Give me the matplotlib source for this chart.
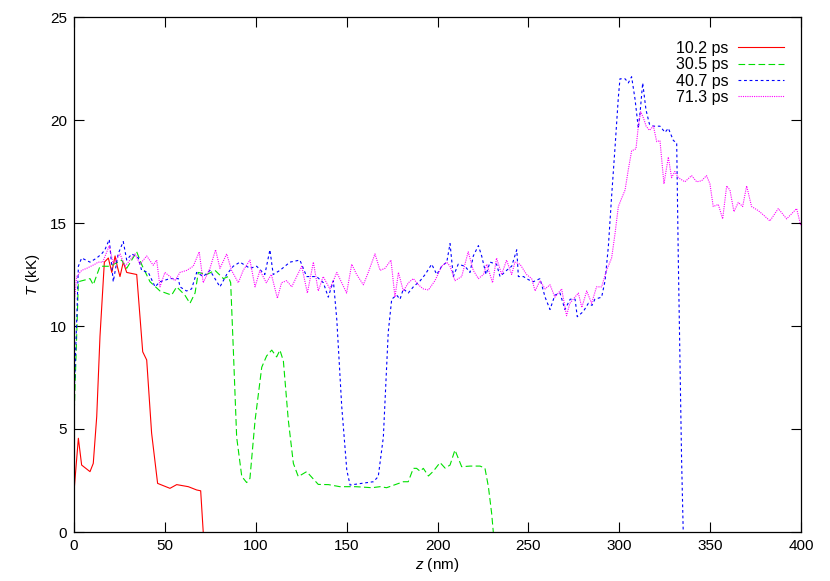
import numpy as np
import matplotlib.pyplot as plt

plt.rcParams['font.family'] = ['Liberation Sans', 'DejaVu Sans']
plt.rcParams['mathtext.fontset'] = 'custom'
plt.rcParams['mathtext.rm'] = 'Liberation Sans'
plt.rcParams['mathtext.it'] = 'Liberation Sans:italic'

# temperature profiles T(z) at four times, (z [nm], T [kK])
t_10 = [(0, 1.96), (2.4, 4.55), (4.2, 3.25), (8.8, 2.93), (10.6, 3.33), (12.5, 5.6),
        (14.3, 9.5), (16.7, 13.1), (18.9, 13.3), (20.8, 12.6), (22.6, 13.4), (23.8, 12.9),
        (25.3, 12.4), (27.1, 13.1), (29.0, 12.6), (34.5, 12.5), (37.8, 8.75), (40.0, 8.35),
        (42.7, 4.8), (46.0, 2.36), (52.8, 2.12), (56.5, 2.3), (62.9, 2.2), (67.5, 2.04),
        (69.7, 2.0), (71.1, 0.0)]

t_30 = [(0, 5.4), (2.4, 12.15), (8.8, 12.3), (10.6, 12.0), (14.3, 12.9), (19.8, 12.9),
        (26.2, 13.2), (29.0, 12.8), (34.5, 13.6), (37.4, 12.95), (41.8, 12.15), (47.3, 11.7),
        (53.7, 11.5), (56.5, 11.9), (61.0, 11.5), (63.8, 11.1), (66.6, 11.6), (68.4, 12.6),
        (73.0, 12.5), (77.6, 12.7), (82.2, 12.3), (84.9, 12.4), (86.2, 12.1), (87.6, 9.0),
        (89.5, 4.6), (92.3, 2.7), (95.0, 2.4), (96.8, 2.6), (99.6, 5.4), (103.3, 8.0),
        (106.0, 8.55), (108.8, 8.83), (111.5, 8.5), (113.3, 8.83), (115.2, 8.3), (117.9, 5.44),
        (120.7, 3.33), (123.4, 2.69), (128.0, 2.93), (134.4, 2.31), (140.0, 2.3), (146.3, 2.2),
        (155.0, 2.2), (164.0, 2.15), (168.4, 2.2), (172.0, 2.15), (181.2, 2.44), (183.9, 2.44),
        (186.7, 3.09), (188.5, 3.09), (190.4, 2.95), (192.2, 3.09), (195.0, 2.72), (197.7, 2.95),
        (201.4, 3.37), (204.2, 3.1), (206.9, 3.25), (209.6, 3.98), (213.3, 3.17), (218.0, 3.2),
        (223.4, 3.2), (226.1, 3.1), (228.0, 2.2), (229.8, 0.9), (230.7, 0.0)]

t_40 = [(0, 6.4), (1.5, 10.3), (2.4, 12.9), (4.2, 13.3), (8.8, 13.1), (12.5, 13.3),
        (15.2, 13.5), (17.0, 13.7), (19.4, 14.2), (21.6, 12.15), (24.3, 13.5), (27.1, 14.1),
        (29.0, 13.2), (31.8, 13.5), (35.4, 13.3), (37.2, 12.7), (40.9, 12.6), (44.6, 11.9),
        (47.3, 12.15), (52.8, 12.3), (57.4, 12.3), (58.3, 11.9), (61.9, 11.7), (64.7, 11.8),
        (67.5, 12.6), (71.1, 12.4), (74.8, 12.7), (80.3, 11.9), (84.0, 12.5), (87.6, 12.9),
        (91.3, 13.1), (96.8, 12.8), (100.5, 12.9), (105.0, 12.5), (107.8, 13.7), (109.6, 12.5),
        (113.3, 12.7), (118.8, 13.1), (124.3, 13.2), (128.0, 12.4), (133.5, 12.4), (137.2, 12.1),
        (139.9, 11.4), (142.7, 12.2), (144.6, 10.3), (147.3, 6.1), (150.1, 3.0), (151.9, 2.28),
        (157.4, 2.35), (164.7, 2.44), (167.4, 2.69), (170.2, 4.6), (172.9, 9.7), (174.8, 11.3),
        (177.5, 11.5), (179.4, 11.3), (181.2, 11.8), (183.9, 11.6), (186.7, 11.9), (190.5, 12.2),
        (193.2, 12.5), (196.8, 13.0), (199.6, 12.5), (202.3, 12.9), (205.1, 13.1), (206.9, 14.0),
        (208.7, 12.4), (211.4, 13.0), (215.1, 12.9), (217.9, 12.6), (219.7, 13.4), (222.5, 13.9),
        (224.3, 13.4), (226.7, 12.5), (228.9, 13.1), (232.5, 13.0), (234.4, 12.4), (238.0, 12.7),
        (240.8, 12.9), (243.6, 13.7), (244.5, 12.4), (247.3, 12.4), (250.0, 12.25), (252.7, 12.15),
        (256.4, 12.3), (259.2, 11.4), (261.9, 10.8), (264.6, 11.5), (267.4, 11.6), (270.1, 10.8),
        (273.0, 11.3), (275.7, 11.3), (276.9, 10.45), (280.2, 10.7), (283.0, 11.1), (285.0, 11.0),
        (286.6, 11.3), (290.3, 11.4), (292.2, 12.2), (294.0, 13.85), (295.8, 16.3), (297.7, 18.7),
        (299.5, 21.1), (300.4, 22.0), (303.2, 22.0), (305.0, 21.8), (306.8, 22.1), (308.7, 21.0),
        (310.5, 19.6), (311.6, 20.5), (312.9, 21.8), (314.7, 20.5), (316.6, 19.8), (318.8, 19.7),
        (322.4, 19.7), (325.2, 19.4), (327.0, 19.6), (329.8, 19.0), (331.6, 18.9), (332.5, 13.2),
        (334.3, 3.5), (335.2, 0.0)]

t_71 = [(0, 11.0), (1.5, 12.4), (4.2, 12.7), (7.0, 12.8), (11.5, 13.0), (13.3, 13.1),
        (15.8, 13.1), (19.4, 13.9), (21.6, 13.0), (25.3, 13.5), (28.1, 12.9), (30.8, 13.2),
        (33.6, 13.5), (36.3, 13.0), (40.0, 13.4), (43.6, 12.95), (45.5, 13.2), (47.3, 11.9),
        (50.0, 12.6), (52.8, 12.4), (55.6, 12.2), (58.3, 12.6), (62.0, 12.7), (65.6, 12.9),
        (68.9, 13.6), (71.1, 12.1), (74.8, 12.8), (77.9, 13.7), (80.3, 12.8), (84.0, 13.5),
        (86.7, 12.7), (90.4, 12.1), (93.1, 12.7), (96.8, 13.2), (99.6, 11.9), (102.3, 12.7),
        (105.8, 12.1), (108.6, 12.5), (111.9, 11.35), (114.2, 12.1), (117.0, 12.2), (119.8, 11.9),
        (122.5, 12.4), (125.3, 12.9), (128.4, 11.6), (131.7, 13.1), (134.4, 11.7), (137.1, 12.4),
        (140.8, 11.8), (144.6, 12.6), (147.3, 12.1), (150.0, 11.6), (152.8, 13.0), (155.5, 12.5),
        (159.2, 12.0), (161.9, 12.6), (165.6, 13.5), (168.4, 12.7), (171.1, 12.8), (174.4, 13.2),
        (176.6, 11.4), (178.5, 12.6), (181.2, 11.7), (184.0, 12.1), (186.7, 12.3), (189.5, 12.0),
        (192.2, 11.8), (195.0, 11.75), (198.6, 12.2), (202.3, 12.9), (205.1, 13.1), (206.9, 12.9),
        (209.6, 12.2), (213.3, 12.4), (216.9, 13.6), (219.7, 12.7), (222.5, 12.3), (225.3, 12.5),
        (227.1, 13.0), (230.3, 12.1), (232.5, 13.3), (235.3, 12.5), (238.0, 13.2), (240.8, 12.5),
        (242.6, 13.1), (245.4, 13.0), (249.0, 12.5), (251.8, 12.3), (253.7, 11.7), (256.4, 12.2),
        (259.2, 11.8), (261.9, 12.0), (264.6, 11.4), (268.3, 11.8), (271.0, 10.5), (272.8, 11.1),
        (276.5, 11.5), (277.5, 11.6), (279.4, 10.9), (282.1, 11.7), (284.8, 11.1), (287.5, 11.9),
        (290.3, 11.9), (293.0, 12.7), (295.8, 13.3), (297.7, 14.5), (299.5, 15.8), (301.3, 16.2),
        (303.2, 16.6), (305.0, 17.6), (306.8, 18.5), (309.2, 18.6), (310.5, 19.7), (311.8, 20.4),
        (313.3, 20.1), (314.8, 19.7), (316.6, 19.5), (318.8, 19.7), (320.6, 18.95), (322.4, 19.0),
        (324.6, 16.9), (327.0, 18.2), (328.8, 17.2), (330.6, 17.5), (332.5, 17.2), (336.1, 17.0),
        (339.8, 17.3), (342.6, 17.0), (345.3, 17.05), (348.0, 17.3), (349.9, 16.9), (351.7, 15.8),
        (354.5, 15.9), (356.9, 15.2), (359.1, 16.8), (360.9, 16.6), (363.1, 15.55), (365.5, 16.0),
        (367.9, 15.8), (370.1, 16.8), (372.8, 15.8), (376.5, 15.6), (379.2, 15.4), (382.9, 15.1),
        (387.5, 15.7), (392.1, 15.2), (397.6, 15.7), (399.8, 14.9)]

labels = ["10.2 ps", "30.5 ps", "40.7 ps", "71.3 ps"]
colors = ["#ff0000", "#00e000", "#0000ff", "#ff00ff"]
dashes = [None, (6, 3), (2.5, 2.5), (1, 1)]

fig = plt.figure(figsize=(8.3, 5.81), dpi=100)
ax = fig.add_axes([74 / 830, 49 / 581, 727 / 830, 515 / 581])

for prof, lab, c, d in zip([t_10, t_30, t_40, t_71], labels, colors, dashes):
    arr = np.array(prof)
    line, = ax.plot(arr[:, 0], arr[:, 1], color=c, lw=0.8, label=lab)
    if d is not None:
        line.set_dashes(d)

ax.set_xlim(0, 400)
ax.set_ylim(0, 25)
ax.set_xticks(np.arange(0, 401, 50))
ax.set_yticks(np.arange(0, 26, 5))
ax.tick_params(direction="in", length=7, width=0.8, top=True, right=True,
               labelsize=11, pad=5)
for s in ax.spines.values():
    s.set_linewidth(0.9)

ax.set_xlabel(r"$z$ (nm)", fontsize=11, labelpad=2)
ax.set_ylabel(r"$T$ (kK)", fontsize=11, labelpad=6)

ax.legend(loc="upper right", bbox_to_anchor=(0.977, 0.954), frameon=False,
          markerfirst=False, handlelength=2.9, fontsize=11.5,
          labelspacing=0.09, handletextpad=0.6, borderaxespad=0.0, borderpad=0.0)

plt.savefig("out.png", dpi=100)
